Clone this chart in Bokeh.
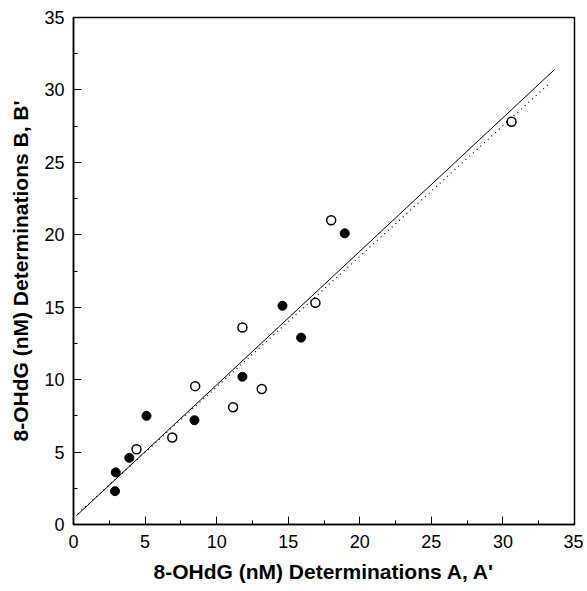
from bokeh.plotting import figure
from bokeh.models import SingleIntervalTicker, Range1d
from bokeh.embed import file_html
from bokeh.resources import INLINE

# Filled circles (determinations A vs B)
filled_x = [2.9, 2.95, 3.9, 5.1, 8.45, 11.8, 14.6, 15.9, 18.95]
filled_y = [2.3, 3.6, 4.6, 7.5, 7.2, 10.2, 15.1, 12.9, 20.1]
# Open circles (determinations A' vs B')
open_x = [4.4, 6.9, 8.5, 11.15, 11.8, 13.15, 16.9, 18.0, 30.6]
open_y = [5.2, 6.0, 9.55, 8.1, 13.6, 9.35, 15.3, 21.0, 27.8]
# Regression lines
solid_x = [0.2, 33.6]
solid_y = [0.6, 31.4]
dotted_x = [0.3, 33.3]
dotted_y = [0.75, 30.5]

p = figure(width=583, height=587, output_backend="svg", toolbar_location=None,
           x_range=Range1d(0, 35), y_range=Range1d(0, 35))
p.min_border_left = 73
p.min_border_right = 9
p.min_border_top = 17
p.min_border_bottom = 63
p.background_fill_color = "white"
p.border_fill_color = "white"
p.outline_line_color = "black"
p.outline_line_width = 1.5
p.grid.visible = False

for ax in (p.xaxis, p.yaxis):
    ax.ticker = SingleIntervalTicker(interval=5, num_minor_ticks=2)
    ax.axis_line_color = "black"
    ax.axis_line_width = 1.5
    ax.major_tick_in = 8
    ax.major_tick_out = 0
    ax.minor_tick_in = 4
    ax.minor_tick_out = 0
    ax.major_tick_line_color = "black"
    ax.minor_tick_line_color = "black"
    ax.major_label_text_font = "Liberation Sans"
    ax.major_label_text_font_size = "18px"
    ax.major_label_text_color = "black"
    ax.axis_label_text_font = "Liberation Sans"
    ax.axis_label_text_font_size = "21px"
    ax.axis_label_text_font_style = "bold"
    ax.axis_label_text_color = "black"

p.xaxis.axis_label = "8-OHdG (nM) Determinations A, A'"
p.yaxis.axis_label = "8-OHdG (nM) Determinations B, B'"
p.xaxis.major_label_standoff = 10
p.yaxis.major_label_standoff = 9
p.xaxis.axis_label_standoff = 9
p.yaxis.axis_label_standoff = 9

p.line(solid_x, solid_y, line_color="black", line_width=1)
p.line(dotted_x, dotted_y, line_color="black", line_width=1.2, line_dash="1 4")

p.scatter(filled_x, filled_y, marker="circle", size=9, fill_color="black", line_color="black")
p.scatter(open_x, open_y, marker="circle", size=9, fill_color="white", line_color="black", line_width=1.5)

open("out.html", "w").write(file_html(p, INLINE))
